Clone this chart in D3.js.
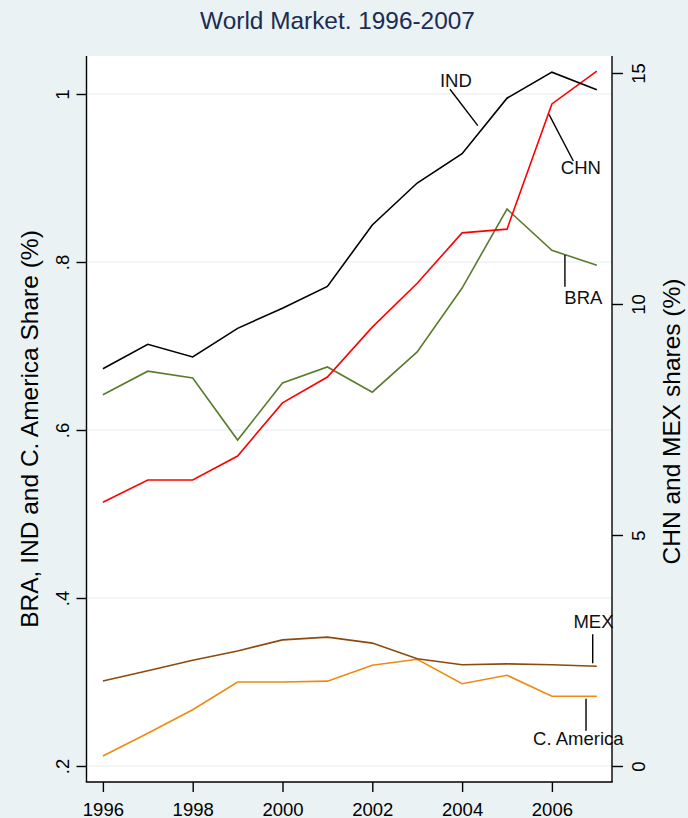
<!DOCTYPE html>
<html>
<head>
<meta charset="utf-8">
<script src="https://cdn.jsdelivr.net/npm/d3@7/dist/d3.min.js"></script>
<style>
  html, body { margin: 0; padding: 0; background: #eaf2f3; }
  svg { display: block; font-family: "Liberation Sans", Arial, Helvetica, sans-serif; }
</style>
</head>
<body>
<svg id="chart" width="688" height="818"></svg>
<script>
// ---- data ----
const years = [1996, 1997, 1998, 1999, 2000, 2001, 2002, 2003, 2004, 2005, 2006, 2007];
// left axis (share, %)
const IND  = [0.673, 0.702, 0.687, 0.721, 0.745, 0.771, 0.844, 0.894, 0.929, 0.995, 1.026, 1.005];
const BRA  = [0.642, 0.670, 0.662, 0.588, 0.656, 0.675, 0.645, 0.693, 0.769, 0.863, 0.814, 0.796];
const CAM  = [0.212, 0.239, 0.267, 0.300, 0.300, 0.301, 0.320, 0.327, 0.298, 0.308, 0.283, 0.283];
// right axis (share, %)
const CHN  = [5.71, 6.19, 6.19, 6.71, 7.86, 8.42, 9.50, 10.45, 11.54, 11.62, 14.33, 15.04];
const MEX  = [1.84, 2.06, 2.29, 2.49, 2.73, 2.79, 2.66, 2.32, 2.19, 2.21, 2.19, 2.16];

const xTicks = [1996, 1998, 2000, 2002, 2004, 2006];
const yLeftTicks = [0.2, 0.4, 0.6, 0.8, 1];
const yLeftTickLabels = [".2", ".4", ".6", ".8", "1"];
const yRightTicks = [0, 5, 10, 15];

const titleText = "World Market. 1996-2007";
const leftTitle = "BRA, IND and C. America Share (%)";
const rightTitle = "CHN and MEX shares (%)";

// ---- layout ----
const plot = { left: 86.5, right: 612, top: 56, bottom: 782 };
const svg = d3.select("#chart");

svg.append("rect").attr("width", 688).attr("height", 818).attr("fill", "#eaf2f3");
svg.append("rect")
  .attr("x", plot.left).attr("y", plot.top)
  .attr("width", plot.right - plot.left).attr("height", plot.bottom - plot.top)
  .attr("fill", "#ffffff");

const x = d3.scaleLinear().domain([1996, 2007]).range([102.9, 596.8]);
const yL = d3.scaleLinear().domain([0.2, 1]).range([766, 94]);
const yR = d3.scaleLinear().domain([0, 15]).range([766, 73]);

// grid
svg.append("g").selectAll("line").data(yLeftTicks).join("line")
  .attr("x1", plot.left).attr("x2", plot.right)
  .attr("y1", d => yL(d)).attr("y2", d => yL(d))
  .attr("stroke", "#e3ecee").attr("stroke-width", 1.2);

// lines
const series = [
  { name: "CAM", values: CAM, scale: yL, color: "#ee8a10" },
  { name: "MEX", values: MEX, scale: yR, color: "#8c4a0c" },
  { name: "BRA", values: BRA, scale: yL, color: "#5a7b2e" },
  { name: "CHN", values: CHN, scale: yR, color: "#ff0000" },
  { name: "IND", values: IND, scale: yL, color: "#000000" }
];
series.forEach(s => {
  const line = d3.line().x((d, i) => x(years[i])).y(d => s.scale(d));
  svg.append("path").datum(s.values)
    .attr("d", line).attr("fill", "none")
    .attr("stroke", s.color).attr("stroke-width", 1.6)
    .attr("stroke-linejoin", "miter");
});

// annotations (in data coordinates)
const annotations = [
  { text: "IND", axis: "L", tx: 2003.86, ty: 1.0087, l: [[2003.73, 1.0056], [2004.35, 0.9623]] },
  { text: "CHN", axis: "R", tx: 2006.646, ty: 12.807, l: [[2005.935, 14.106], [2006.477, 13.095]] },
  { text: "BRA", axis: "L", tx: 2006.70, ty: 0.7496, l: [[2006.29, 0.8083], [2006.29, 0.7706]] },
  { text: "MEX", axis: "R", tx: 2006.926, ty: 2.98, l: [[2006.909, 2.85], [2006.909, 2.223]] },
  { text: "C. America", axis: "L", tx: 2006.588, ty: 0.225, l: [[2006.76, 0.2801], [2006.76, 0.242]] }
];
annotations.forEach(a => {
  const ys = a.axis === "L" ? yL : yR;
  svg.append("line")
    .attr("x1", x(a.l[0][0])).attr("y1", ys(a.l[0][1]))
    .attr("x2", x(a.l[1][0])).attr("y2", ys(a.l[1][1]))
    .attr("stroke", "#000").attr("stroke-width", 1.4);
  svg.append("text")
    .attr("x", x(a.tx)).attr("y", ys(a.ty))
    .attr("text-anchor", "middle").attr("font-size", 18.5).attr("fill", "#111")
    .text(a.text);
});

// axes lines
const axisColor = "#000";
svg.append("line").attr("x1", plot.left).attr("x2", plot.left).attr("y1", plot.top).attr("y2", plot.bottom)
  .attr("stroke", axisColor).attr("stroke-width", 1.4);
svg.append("line").attr("x1", plot.right).attr("x2", plot.right).attr("y1", plot.top).attr("y2", plot.bottom)
  .attr("stroke", axisColor).attr("stroke-width", 1.4);
svg.append("line").attr("x1", plot.left - 0.7).attr("x2", plot.right + 0.7).attr("y1", plot.bottom).attr("y2", plot.bottom)
  .attr("stroke", axisColor).attr("stroke-width", 1.4);

// left axis
const gL = svg.append("g").attr("transform", `translate(${plot.left},0)`)
  .call(d3.axisLeft(yL).tickValues(yLeftTicks).tickSize(10)
    .tickFormat((d, i) => yLeftTickLabels[i]));
gL.select(".domain").remove();
gL.selectAll(".tick line").attr("stroke", axisColor).attr("stroke-width", 1.4);
gL.selectAll(".tick text")
  .attr("x", null).attr("dy", null)
  .attr("transform", "translate(-17.5,0) rotate(-90)")
  .attr("text-anchor", "middle").attr("font-size", 18.5).attr("fill", "#000")
  .attr("font-family", "Liberation Sans, Arial, sans-serif");

// right axis
const gR = svg.append("g").attr("transform", `translate(${plot.right},0)`)
  .call(d3.axisRight(yR).tickValues(yRightTicks).tickSize(11).tickFormat(d3.format("d")));
gR.select(".domain").remove();
gR.selectAll(".tick line").attr("stroke", axisColor).attr("stroke-width", 1.4);
gR.selectAll(".tick text")
  .attr("x", null).attr("dy", null)
  .attr("transform", "translate(33,0) rotate(-90)")
  .attr("text-anchor", "middle").attr("font-size", 18.5).attr("fill", "#000")
  .attr("font-family", "Liberation Sans, Arial, sans-serif");

// bottom axis
const gB = svg.append("g").attr("transform", `translate(0,${plot.bottom})`)
  .call(d3.axisBottom(x).tickValues(xTicks).tickSize(10).tickFormat(d3.format("d")));
gB.select(".domain").remove();
gB.selectAll(".tick line").attr("stroke", axisColor).attr("stroke-width", 1.4);
gB.selectAll(".tick text")
  .attr("y", 33.5).attr("dy", null)
  .attr("text-anchor", "middle").attr("font-size", 18.5).attr("fill", "#000")
  .attr("font-family", "Liberation Sans, Arial, sans-serif");

// titles
svg.append("text").attr("x", 337.5).attr("y", 29.3)
  .attr("text-anchor", "middle").attr("font-size", 24.4).attr("fill", "#1c2c52")
  .text(titleText);
svg.append("text").attr("transform", "translate(37.5,429) rotate(-90)")
  .attr("text-anchor", "middle").attr("font-size", 24.5).attr("fill", "#000")
  .text(leftTitle);
svg.append("text").attr("transform", "translate(679.5,421.5) rotate(-90)")
  .attr("text-anchor", "middle").attr("font-size", 24.5).attr("fill", "#000")
  .text(rightTitle);
</script>
</body>
</html>
